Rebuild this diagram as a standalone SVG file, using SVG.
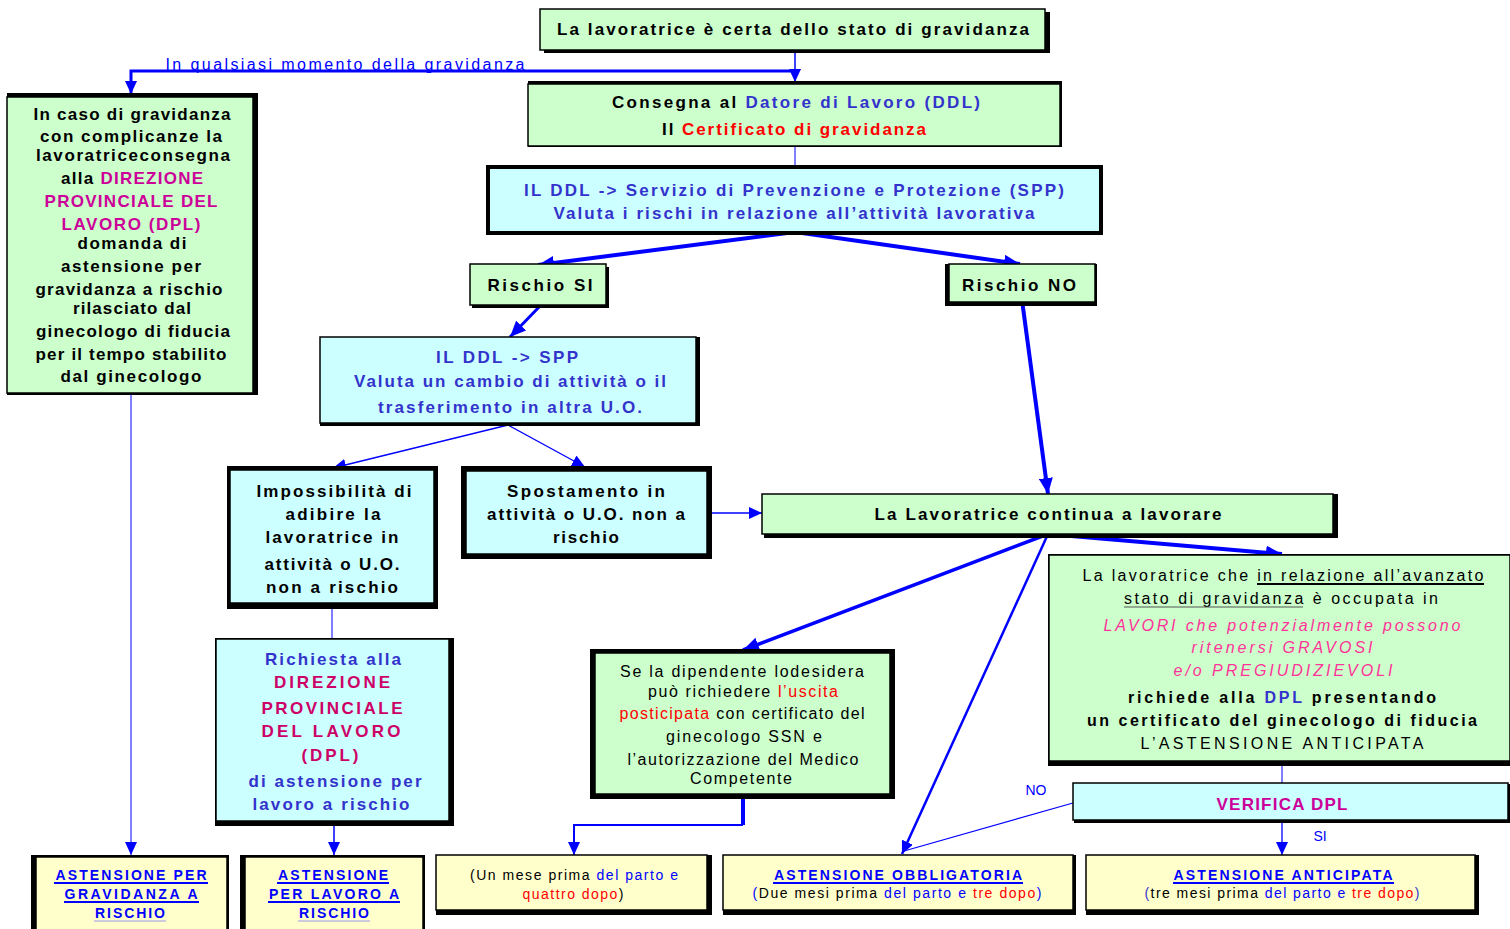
<svg xmlns="http://www.w3.org/2000/svg" width="1510" height="929" viewBox="0 0 1510 929">
<style>
text{font-family:"Liberation Sans",Arial,sans-serif;text-anchor:middle}
.b{font-weight:bold}
.f17{font-size:17px}
.f16{font-size:16px}
.f14{font-size:14px}
.k{fill:#000}
.bl{fill:#3333cc}
.blu{fill:#0000ff}
.red{fill:#ff0000}
.pk{fill:#cc0099}
.cr{fill:#cc0066}
.ip{fill:#ff3399;font-style:italic}
.g{fill:#ccffcc;stroke:#000;stroke-width:1.5}
.c{fill:#ccffff;stroke:#000;stroke-width:1.5}
.y{fill:#ffffcc;stroke:#000;stroke-width:1.5}
.sh{fill:#000}
.ln{stroke:#0000ff;fill:none}
.ul{stroke:#0000ff;stroke-width:2}
.ult{stroke:#9999ee;stroke-width:1}
</style>
<defs>
<marker id="ah" markerUnits="userSpaceOnUse" markerWidth="18" markerHeight="14" refX="16" refY="7" orient="auto"><path d="M0,0 L16,7 L0,14 z" fill="#0000ff"/></marker>
<marker id="as" markerUnits="userSpaceOnUse" markerWidth="14" markerHeight="12" refX="13" refY="6" orient="auto"><path d="M0,0 L13,6 L0,12 z" fill="#0000ff"/></marker>
</defs>
<rect width="1510" height="929" fill="#fff"/>

<g id="connectors">
<line class="ln" x1="795" y1="50" x2="795" y2="82" stroke-width="1.5" marker-end="url(#as)"/>
<polyline class="ln" points="797,71 131,71 131,94" stroke-width="3" marker-end="url(#as)"/>
<line class="ln" x1="795" y1="146" x2="795" y2="166" stroke-width="1"/>
<line class="ln" x1="795" y1="232" x2="538" y2="265" stroke-width="4" marker-end="url(#ah)"/>
<line class="ln" x1="795" y1="232" x2="1020" y2="264" stroke-width="4" marker-end="url(#ah)"/>
<line class="ln" x1="541" y1="305" x2="510" y2="337" stroke-width="3" marker-end="url(#ah)"/>
<line class="ln" x1="1022" y1="300" x2="1048" y2="494" stroke-width="4" marker-end="url(#ah)"/>
<line class="ln" x1="508" y1="425" x2="333" y2="468" stroke-width="1.3" marker-end="url(#as)"/>
<line class="ln" x1="508" y1="425" x2="585" y2="467" stroke-width="1.3" marker-end="url(#as)"/>
<line class="ln" x1="710" y1="513" x2="762" y2="513" stroke-width="1.3" marker-end="url(#as)"/>
<line class="ln" x1="332" y1="607" x2="332" y2="638" stroke-width="1"/>
<line class="ln" x1="334" y1="825" x2="334" y2="855" stroke-width="1.5" marker-end="url(#as)"/>
<line class="ln" x1="131" y1="394" x2="131" y2="855" stroke-width="1" marker-end="url(#as)"/>
<line class="ln" x1="1048" y1="534" x2="743" y2="650" stroke-width="3.5" marker-end="url(#ah)"/>
<line class="ln" x1="1048" y1="534" x2="1282" y2="554" stroke-width="4" marker-end="url(#ah)"/>
<line class="ln" x1="1048" y1="534" x2="902" y2="854" stroke-width="2.5" marker-end="url(#as)"/>
<line class="ln" x1="743" y1="797" x2="743" y2="825" stroke-width="4"/>
<polyline class="ln" points="743,825 574,825 574,855" stroke-width="2" marker-end="url(#as)"/>
<line class="ln" x1="1282" y1="763" x2="1282" y2="783" stroke-width="1"/>
<line class="ln" x1="1073" y1="803" x2="904" y2="851" stroke-width="1.2"/>
<line class="ln" x1="1282" y1="821" x2="1282" y2="855" stroke-width="1.3" marker-end="url(#as)"/>
<text x="345" y="70" class="f16" fill="#0000ff" textLength="359" lengthAdjust="spacing">In qualsiasi momento della gravidanza</text>
<text x="1036" y="795" class="f14 blu">NO</text>
<text x="1320" y="841" class="f14 blu">SI</text>
</g>

<g id="n-top">
<rect class="sh" x="544" y="12" width="506" height="41"/>
<rect class="g" x="540" y="9" width="505" height="41"/>
<text x="793" y="35" class="b f17 k" textLength="472" lengthAdjust="spacing">La lavoratrice è certa dello stato di gravidanza</text>
</g>

<g id="n-consegna">
<rect class="sh" x="528" y="81" width="534" height="66"/>
<rect class="g" x="528" y="84" width="532" height="62"/>
<text x="796" y="108" class="b f17 k" textLength="368" lengthAdjust="spacing">Consegna al <tspan class="bl">Datore di Lavoro (DDL)</tspan></text>
<text x="794" y="135" class="b f17 k" textLength="264" lengthAdjust="spacing">Il <tspan class="red">Certificato di gravidanza</tspan></text>
</g>

<g id="n-spp">
<rect class="sh" x="486" y="165" width="617" height="70"/>
<rect x="490" y="169" width="609" height="62" fill="#ccffff"/>
<text x="794" y="196" class="b f17 bl" textLength="540" lengthAdjust="spacing">IL DDL -&gt; Servizio di Prevenzione e Protezione (SPP)</text>
<text x="794" y="219" class="b f17 bl" textLength="481" lengthAdjust="spacing">Valuta i rischi  in relazione all’attività lavorativa</text>
</g>

<g id="n-left">
<rect class="sh" x="7" y="93" width="251" height="302"/>
<rect class="g" x="7" y="97" width="246" height="296"/>
<text class="b f17 k" x="132" y="120" textLength="197" lengthAdjust="spacing">In caso di gravidanza</text>
<text class="b f17 k" x="131" y="142" textLength="182" lengthAdjust="spacing">con complicanze la</text>
<text class="b f17 k" x="133" y="161" textLength="194" lengthAdjust="spacing">lavoratriceconsegna</text>
<text class="b f17 k" x="132" y="184" textLength="142" lengthAdjust="spacing">alla <tspan class="pk">DIREZIONE</tspan></text>
<text class="b f17 pk" x="131" y="207" textLength="173" lengthAdjust="spacing">PROVINCIALE DEL</text>
<text class="b f17 pk" x="131" y="230" textLength="139" lengthAdjust="spacing">LAVORO (DPL)</text>
<text class="b f17 k" x="132" y="249" textLength="109" lengthAdjust="spacing">domanda di</text>
<text class="b f17 k" x="131" y="272" textLength="140" lengthAdjust="spacing">astensione per</text>
<text class="b f17 k" x="129" y="295" textLength="187" lengthAdjust="spacing">gravidanza a rischio</text>
<text class="b f17 k" x="132" y="314" textLength="118" lengthAdjust="spacing">rilasciato dal</text>
<text class="b f17 k" x="133" y="337" textLength="194" lengthAdjust="spacing">ginecologo di fiducia</text>
<text class="b f17 k" x="131" y="360" textLength="191" lengthAdjust="spacing">per il tempo stabilito</text>
<text class="b f17 k" x="131" y="382" textLength="141" lengthAdjust="spacing">dal ginecologo</text>
</g>

<g id="n-rischio-si">
<rect class="sh" x="472" y="267" width="137" height="41"/>
<rect class="g" x="470" y="264" width="136" height="41"/>
<text x="540" y="291" class="b f17 k" textLength="105" lengthAdjust="spacing">Rischio SI</text>
</g>

<g id="n-rischio-no">
<rect class="sh" x="945" y="264" width="152" height="42"/>
<rect class="g" x="949" y="264" width="146" height="38"/>
<text x="1019" y="291" class="b f17 k" textLength="114" lengthAdjust="spacing">Rischio  NO</text>
</g>

<g id="n-ddl-spp">
<rect class="sh" x="320" y="337" width="380" height="89"/>
<rect class="c" x="320" y="337" width="376" height="86"/>
<text x="507" y="363" class="b f17 bl" textLength="142" lengthAdjust="spacing">IL DDL -&gt; SPP</text>
<text x="510" y="387" class="b f17 bl" textLength="312" lengthAdjust="spacing">Valuta un cambio di attività o il</text>
<text x="510" y="413" class="b f17 bl" textLength="264" lengthAdjust="spacing">trasferimento in altra U.O.</text>
</g>

<g id="n-impossibilita">
<rect class="sh" x="227" y="466" width="211" height="143"/>
<rect class="c" x="230" y="470" width="204" height="133"/>
<text x="334" y="497" class="b f17 k" textLength="155" lengthAdjust="spacing">Impossibilità di</text>
<text x="333" y="520" class="b f17 k" textLength="95" lengthAdjust="spacing">adibire la</text>
<text x="332" y="543" class="b f17 k" textLength="133" lengthAdjust="spacing">lavoratrice in</text>
<text x="332" y="570" class="b f17 k" textLength="135" lengthAdjust="spacing">attività o U.O.</text>
<text x="332" y="593" class="b f17 k" textLength="132" lengthAdjust="spacing">non a rischio</text>
</g>

<g id="n-spostamento">
<rect class="sh" x="461" y="466" width="251" height="93"/>
<rect class="c" x="466" y="471" width="241" height="83"/>
<text x="586" y="497" class="b f17 k" textLength="158" lengthAdjust="spacing">Spostamento in</text>
<text x="586" y="520" class="b f17 k" textLength="198" lengthAdjust="spacing">attività o U.O. non a</text>
<text x="586" y="543" class="b f17 k" textLength="66" lengthAdjust="spacing">rischio</text>
</g>

<g id="n-continua">
<rect class="sh" x="764" y="494" width="574" height="44"/>
<rect class="g" x="762" y="494" width="571" height="40"/>
<text x="1048" y="520" class="b f17 k" textLength="347" lengthAdjust="spacing">La Lavoratrice continua a lavorare</text>
</g>

<g id="n-avanzato">
<rect class="sh" x="1048" y="554" width="462" height="212"/>
<rect class="g" x="1049" y="555" width="461" height="206"/>
<text x="1283" y="581" class="f16 k" textLength="401" lengthAdjust="spacing">La lavoratrice che in relazione all’avanzato</text>
<line x1="1257" y1="584" x2="1484" y2="584" stroke="#000" stroke-width="2"/>
<text x="1281" y="604" class="f16 k" textLength="314" lengthAdjust="spacing">stato di gravidanza è occupata in</text>
<line x1="1124" y1="607" x2="1303" y2="607" stroke="#555" stroke-width="1"/>
<text x="1282" y="631" class="f16 ip" textLength="357" lengthAdjust="spacing">LAVORI che potenzialmente possono</text>
<text x="1282" y="653" class="f16 ip" textLength="181" lengthAdjust="spacing">ritenersi GRAVOSI</text>
<text x="1283" y="676" class="f16 ip" textLength="219" lengthAdjust="spacing">e/o PREGIUDIZIEVOLI</text>
<text x="1282" y="703" class="b f16 k" textLength="308" lengthAdjust="spacing">richiede alla <tspan class="bl">DPL</tspan> presentando</text>
<text x="1282" y="726" class="b f16 k" textLength="390" lengthAdjust="spacing">un certificato del ginecologo di fiducia</text>
<text x="1282" y="749" class="f16 k" textLength="283" lengthAdjust="spacing">L’ASTENSIONE ANTICIPATA</text>
</g>

<g id="n-uscita">
<rect class="sh" x="590" y="649" width="305" height="150"/>
<rect class="g" x="595" y="653" width="295" height="141"/>
<text x="742" y="677" class="f16 k" textLength="244" lengthAdjust="spacing">Se la dipendente lodesidera</text>
<text x="743" y="697" class="f16 k" textLength="190" lengthAdjust="spacing">può richiedere <tspan class="red">l’uscita</tspan></text>
<text x="742" y="719" class="f16 k" textLength="245" lengthAdjust="spacing"><tspan class="red">posticipata</tspan> con certificato del</text>
<text x="744" y="742" class="f16 k" textLength="156" lengthAdjust="spacing">ginecologo SSN e</text>
<text x="743" y="765" class="f16 k" textLength="231" lengthAdjust="spacing">l’autorizzazione del Medico</text>
<text x="741" y="784" class="f16 k" textLength="102" lengthAdjust="spacing">Competente</text>
</g>

<g id="n-richiesta">
<rect class="sh" x="215" y="638" width="239" height="188"/>
<rect class="c" x="216" y="639" width="233" height="182"/>
<text x="333" y="665" class="b f17 bl" textLength="136" lengthAdjust="spacing">Richiesta alla</text>
<text x="332" y="688" class="b f17 cr" textLength="116" lengthAdjust="spacing">DIREZIONE</text>
<text x="332" y="714" class="b f17 cr" textLength="141" lengthAdjust="spacing">PROVINCIALE</text>
<text x="331" y="737" class="b f17 cr" textLength="139" lengthAdjust="spacing">DEL LAVORO</text>
<text x="330" y="761" class="b f17 cr" textLength="57" lengthAdjust="spacing">(DPL)</text>
<text x="335" y="787" class="b f17 bl" textLength="173" lengthAdjust="spacing">di astensione per</text>
<text x="331" y="810" class="b f17 bl" textLength="157" lengthAdjust="spacing">lavoro a rischio</text>
</g>

<g id="n-verifica">
<rect class="sh" x="1074" y="784" width="436" height="39"/>
<rect class="c" x="1073" y="783" width="435" height="37"/>
<text x="1282" y="810" class="b f17 pk" textLength="131" lengthAdjust="spacing">VERIFICA DPL</text>
</g>

<g id="n-ast-grav">
<rect class="sh" x="31" y="855" width="198" height="74"/>
<rect class="y" x="36" y="857" width="191" height="74"/>
<text x="131" y="880" class="b f14 blu" textLength="151" lengthAdjust="spacing">ASTENSIONE PER</text>
<line class="ul" x1="54" y1="883" x2="208" y2="883"/>
<text x="131" y="899" class="b f14 blu" textLength="133" lengthAdjust="spacing">GRAVIDANZA A</text>
<line class="ul" x1="64" y1="902" x2="199" y2="902"/>
<text x="130" y="918" class="b f14 blu" textLength="70" lengthAdjust="spacing">RISCHIO</text>
<line class="ult" x1="94" y1="921" x2="166" y2="921"/>
</g>

<g id="n-ast-lav">
<rect class="sh" x="240" y="855" width="185" height="74"/>
<rect class="y" x="245" y="857" width="178" height="74"/>
<text x="333" y="880" class="b f14 blu" textLength="110" lengthAdjust="spacing">ASTENSIONE</text>
<line class="ul" x1="277" y1="883" x2="389" y2="883"/>
<text x="334" y="899" class="b f14 blu" textLength="130" lengthAdjust="spacing">PER LAVORO A</text>
<line class="ul" x1="268" y1="902" x2="400" y2="902"/>
<text x="334" y="918" class="b f14 blu" textLength="70" lengthAdjust="spacing">RISCHIO</text>
<line class="ult" x1="298" y1="921" x2="370" y2="921"/>
</g>

<g id="n-un-mese">
<rect class="sh" x="436" y="855" width="276" height="60"/>
<rect class="y" x="436" y="855" width="271" height="55"/>
<text x="574" y="880" class="f14 k" textLength="208" lengthAdjust="spacing">(Un mese prima <tspan class="blu">del parto e</tspan></text>
<text x="573" y="899" class="f14 red" textLength="101" lengthAdjust="spacing">quattro dopo<tspan class="k">)</tspan></text>
</g>

<g id="n-obbligatoria">
<rect class="sh" x="723" y="855" width="353" height="60"/>
<rect class="y" x="723" y="855" width="350" height="55"/>
<text x="898" y="880" class="b f14 blu" textLength="248" lengthAdjust="spacing">ASTENSIONE OBBLIGATORIA</text>
<line class="ul" x1="773" y1="883" x2="1023" y2="883"/>
<text x="897" y="898" class="f14 k" textLength="289" lengthAdjust="spacing"><tspan class="blu">(</tspan>Due mesi prima <tspan class="blu">del parto e</tspan> <tspan class="red">tre dopo</tspan><tspan class="blu">)</tspan></text>
</g>

<g id="n-anticipata">
<rect class="sh" x="1086" y="855" width="393" height="60"/>
<rect class="y" x="1086" y="855" width="389" height="55"/>
<text x="1283" y="880" class="b f14 blu" textLength="219" lengthAdjust="spacing">ASTENSIONE ANTICIPATA</text>
<line class="ul" x1="1173" y1="883" x2="1394" y2="883"/>
<text x="1282" y="898" class="f14 k" textLength="275" lengthAdjust="spacing"><tspan class="bl">(</tspan>tre mesi prima <tspan class="blu">del parto e</tspan> <tspan class="red">tre dopo</tspan><tspan class="bl">)</tspan></text>
</g>
</svg>
